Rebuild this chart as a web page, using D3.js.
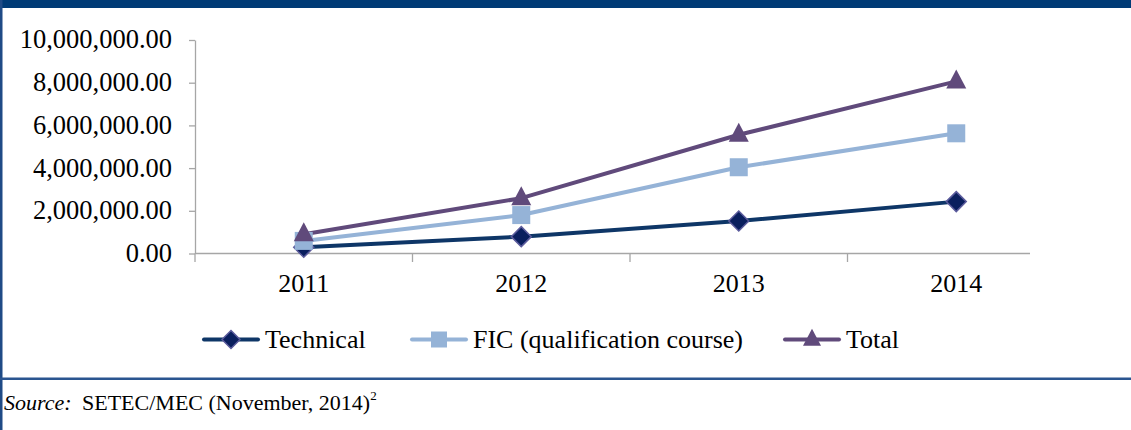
<!DOCTYPE html>
<html>
<head>
<meta charset="utf-8">
<script src="https://cdn.jsdelivr.net/npm/d3@7"></script>
<style>
  body { margin: 0; background: #fff; }
  svg { display: block; font-family: "Liberation Serif", "Times New Roman", serif; }
</style>
</head>
<body>
<svg width="1131" height="430"></svg>
<script>
// data
const years = ["2011", "2012", "2013", "2014"];
const technical = [290000, 790000, 1520000, 2430000];
const fic = [590000, 1800000, 4040000, 5630000];
const total = [900000, 2590000, 5560000, 8060000];
const yTicks = [0, 2000000, 4000000, 6000000, 8000000, 10000000];
const seriesNames = ["Technical", "FIC (qualification course)", "Total"];

const svg = d3.select("svg");

// frame
svg.append("rect").attr("x", 0).attr("y", 0).attr("width", 1131).attr("height", 8).attr("fill", "#003b76");
svg.append("rect").attr("x", 0).attr("y", 0).attr("width", 2.5).attr("height", 430).attr("fill", "#1f4b86");
svg.append("rect").attr("x", 0).attr("y", 377.5).attr("width", 1131).attr("height", 2.5).attr("fill", "#2a5590");

const x = d3.scaleBand().domain(years).range([195, 1065]).padding(0);
const y = d3.scaleLinear().domain([0, 10000000]).range([253.5, 40]);
const fmt = d3.format(",.2f");

// y axis
const yAxis = svg.append("g").attr("transform", "translate(195,0)")
  .call(d3.axisLeft(y).tickValues(yTicks).tickFormat(fmt).tickSize(6).tickSizeOuter(0));
yAxis.select(".domain").attr("stroke", "#a6a6a6").attr("stroke-width", 1.3);
yAxis.selectAll(".tick line").attr("stroke", "#a6a6a6").attr("stroke-width", 1.3);
yAxis.selectAll(".tick text").attr("font-size", 26.5).attr("fill", "#000")
  .attr("font-family", "Liberation Serif").attr("x", -23).attr("dy", "0.3em");
svg.append("line").attr("x1", 195).attr("x2", 195).attr("y1", 253.5).attr("y2", 262)
  .attr("stroke", "#a6a6a6").attr("stroke-width", 1.3);

// x axis
svg.append("line").attr("x1", 195).attr("x2", 1030).attr("y1", 253.5).attr("y2", 253.5)
  .attr("stroke", "#a6a6a6").attr("stroke-width", 1.3);
svg.selectAll(".xtick").data(years.slice(1)).enter().append("line")
  .attr("x1", d => x(d)).attr("x2", d => x(d)).attr("y1", 253.5).attr("y2", 262)
  .attr("stroke", "#a6a6a6").attr("stroke-width", 1.3);
svg.selectAll(".xlabel").data(years).enter().append("text")
  .attr("x", d => x(d) + x.bandwidth() / 2).attr("y", 292)
  .attr("text-anchor", "middle").attr("font-size", 26).text(d => d);

const cx = d => x(d) + x.bandwidth() / 2;

const series = [
  { name: seriesNames[0], values: technical, color: "#0e3667", marker: "diamond", fill: "#0a1f5e", mstroke: "#5b5b9c" },
  { name: seriesNames[1], values: fic, color: "#95b3d7", marker: "square", fill: "#95b3d7", mstroke: "#95b3d7" },
  { name: seriesNames[2], values: total, color: "#604a7b", marker: "triangle", fill: "#604a7b", mstroke: "#604a7b" }
];

const line = d3.line().x((d, i) => cx(years[i])).y(d => y(d));

function marker(g, type, px, py, s, fill, stroke) {
  if (type === "diamond") {
    g.append("path").attr("d", `M${px},${py - s / 2}L${px + s / 2},${py}L${px},${py + s / 2}L${px - s / 2},${py}Z`)
      .attr("fill", fill).attr("stroke", stroke).attr("stroke-width", 1.5);
  } else if (type === "square") {
    g.append("rect").attr("x", px - s / 2 + 1).attr("y", py - s / 2 + 1).attr("width", s - 2).attr("height", s - 2)
      .attr("fill", fill);
  } else {
    g.append("path").attr("d", `M${px},${py - s * 0.6}L${px + s / 2},${py + s * 0.35}L${px - s / 2},${py + s * 0.35}Z`)
      .attr("fill", fill);
  }
}

series.forEach(s => {
  svg.append("path").datum(s.values).attr("d", line)
    .attr("fill", "none").attr("stroke", s.color).attr("stroke-width", 4).attr("stroke-linejoin", "round");
});
series.forEach(s => {
  const g = svg.append("g");
  s.values.forEach((v, i) => marker(g, s.marker, cx(years[i]), y(v), 20, s.fill, s.mstroke));
});

// legend
const legendX = [204, 412, 785];
series.forEach((s, i) => {
  const g = svg.append("g");
  const lx = legendX[i];
  g.append("line").attr("x1", lx).attr("x2", lx + 54).attr("y1", 339.5).attr("y2", 339.5)
    .attr("stroke", s.color).attr("stroke-width", 4).attr("stroke-linecap", "round");
  marker(g, s.marker, lx + 27, 339.5, 18, s.fill, s.mstroke);
  g.append("text").attr("x", lx + 61).attr("y", 347.5).attr("font-size", 26).text(s.name);
});

// source
svg.append("text").attr("x", 4).attr("y", 409.5).attr("font-size", 22)
  .attr("font-style", "italic").text("Source:");
const src = svg.append("text").attr("x", 82).attr("y", 409.5).attr("font-size", 22);
src.append("tspan").text("SETEC/MEC (November, 2014)");
src.append("tspan").attr("font-size", 13).attr("dy", -10).text("2");
</script>
</body>
</html>
